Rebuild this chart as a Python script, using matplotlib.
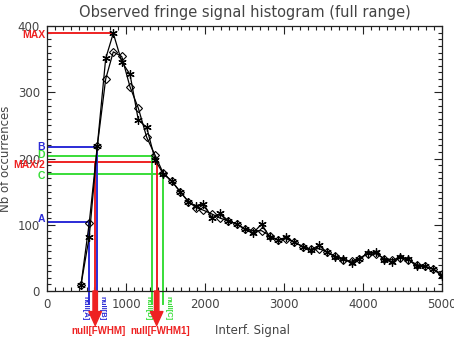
import matplotlib
matplotlib.use("Agg")
import matplotlib.pyplot as plt
from matplotlib.ticker import MultipleLocator

# histogram bins (interferometric signal) and counts
signal = [430, 535, 637, 743, 839, 946, 1051, 1156, 1262, 1368,
          1470, 1578, 1684, 1789, 1886, 1979, 2092, 2190, 2295, 2401,
          2506, 2612, 2717, 2823, 2928, 3025, 3127, 3237, 3337, 3443,
          3540, 3646, 3751, 3856, 3954, 4059, 4165, 4270, 4371, 4468,
          4573, 4680, 4785, 4890, 4996]
counts_star = [9, 82, 219, 351, 389, 346, 327, 258, 247, 198,
               177, 166, 150, 135, 128, 132, 110, 117, 106, 101,
               93, 88, 101, 81, 77, 81, 74, 67, 62, 69,
               59, 52, 48, 43, 49, 57, 59, 47, 44, 52,
               48, 37, 37, 33, 23]
counts_diam = [9, 103, 219, 320, 361, 354, 308, 276, 232, 205,
               178, 166, 150, 135, 126, 122, 116, 110, 106, 101,
               94, 91, 91, 83, 77, 79, 74, 67, 63, 64,
               59, 53, 47, 45, 49, 56, 56, 49, 47, 50,
               47, 40, 37, 33, 25]

# reference levels and their null positions
level_names = ["MAX", "B", "D", "MAX/2", "C", "A"]
level_values = [389, 217, 204, 195, 177, 104]
level_x = [839, 637, 1335, 1388, 1470, 535]
fwhm_x = [610, 1388]
fwhm_names = ["null[FWHM]", "null[FWHM1]"]

RED = "#ee2222"
BLUE = "#2b2bd6"
GREEN = "#38dd38"
TXT = "#444444"

fig = plt.figure(figsize=(4.54, 3.41), dpi=100)
ax = fig.add_axes([47 / 454, 1 - 291 / 341, 395 / 454, 265 / 341])

ax.plot(signal, counts_star, color="black", lw=0.9,
        marker=(6, 2, 0), ms=6, mew=0.9, zorder=3)
ax.plot(signal, counts_diam, color="black", lw=0.9,
        marker="D", ms=3.8, mfc="none", mew=0.8, zorder=3)

colors = {"MAX": RED, "B": BLUE, "D": GREEN, "MAX/2": RED, "C": GREEN, "A": BLUE}
label_y = {"MAX": 386, "B": 217, "D": 205, "MAX/2": 190, "C": 173, "A": 109}

for name, val, xv in zip(level_names, level_values, level_x):
    c = colors[name]
    ax.plot([0, xv], [val, val], color=c, lw=1.4, zorder=2)
    ax.text(-25, label_y[name], name, color=c, fontsize=7.5,
            fontweight="bold", ha="right", va="center", clip_on=False,
            family="Liberation Sans")

# vertical null lines for A, B, D, C (extend below the axis)
for name, side in [("A", "left"), ("B", "right"), ("D", "left"), ("C", "right")]:
    i = level_names.index(name)
    xv, val, c = level_x[i], level_values[i], colors[name]
    ax.plot([xv, xv], [val, -19], color=c, lw=1.4, clip_on=False, zorder=2)
    dx = -55 if side == "left" else 60
    ax.text(xv + dx, -8, "null[%s]" % name, color=c, fontsize=5.5,
            fontweight="bold", rotation=270, ha="center", va="top",
            clip_on=False, family="Liberation Sans")

# FWHM red lines with thick arrows below the axis
half = level_values[level_names.index("MAX/2")]
for xv, lab in zip(fwhm_x, fwhm_names):
    ax.plot([xv, xv], [half, 0], color=RED, lw=1.4, zorder=2)
    ann = ax.annotate("", xy=(xv, -52), xytext=(xv, 0), annotation_clip=False,
                      arrowprops=dict(width=3.2, headwidth=9, headlength=10,
                                      color=RED, shrink=0))
    ann.arrow_patch.set_clip_on(False)
    ax.text(xv + 45, -61, lab, color=RED, fontsize=7, fontweight="bold",
            ha="center", va="center", clip_on=False, family="Liberation Sans")

ax.set_xlim(0, 5000)
ax.set_ylim(0, 400)
ax.xaxis.set_major_locator(MultipleLocator(1000))
ax.xaxis.set_minor_locator(MultipleLocator(100))
ax.yaxis.set_major_locator(MultipleLocator(100))
ax.yaxis.set_minor_locator(MultipleLocator(10))
ax.tick_params(which="both", direction="in", top=True, right=True,
               colors="#222222", labelcolor=TXT, labelsize=8.5, width=0.8)
ax.tick_params(which="major", length=6, pad=5)
ax.tick_params(which="minor", length=3)
for s in ax.spines.values():
    s.set_linewidth(0.9)
    s.set_color("#222222")

ax.set_xlabel("Interf. Signal", fontsize=8.5, color=TXT)
ax.xaxis.set_label_coords(0.52, -0.125)
ax.set_ylabel("Nb of occurrences", fontsize=8.5, color=TXT)
ax.yaxis.set_label_coords(-0.088, 0.5)
fig.text(0.5 * (47 + 442) / 454, 1 - 13 / 341,
         "Observed fringe signal histogram (full range)",
         fontsize=10.5, color=TXT, ha="center", va="center")

fig.savefig("out.png", dpi=100)
